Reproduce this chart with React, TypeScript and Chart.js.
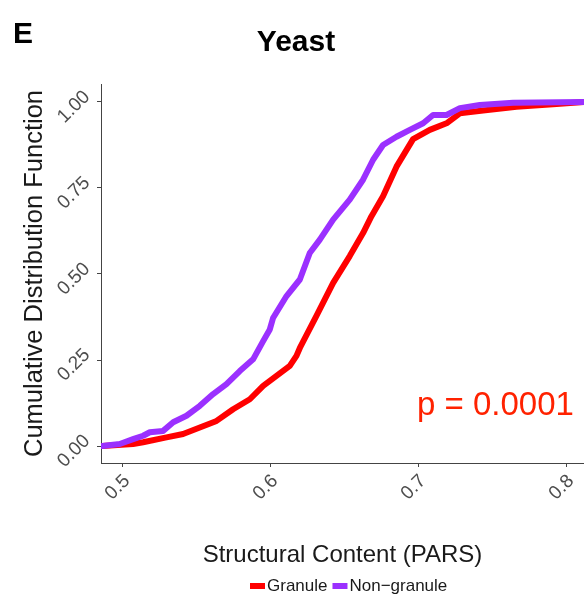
import React, { useEffect, useRef } from "react";
import { Chart, registerables } from "chart.js";

Chart.register(...registerables);

// ---- data ----
const granuleX = [0.486, 0.5068, 0.5136, 0.5294, 0.5406, 0.5519, 0.5632, 0.5744, 0.5857, 0.5947, 0.6037, 0.6127, 0.6172, 0.6195, 0.6307, 0.642, 0.6532, 0.6622, 0.6679, 0.6757, 0.6848, 0.696, 0.7073, 0.7186, 0.7276, 0.7433, 0.7659, 0.7929, 0.812];
const granuleY = [0, 0.006, 0.011, 0.025, 0.035, 0.054, 0.073, 0.107, 0.136, 0.175, 0.204, 0.233, 0.262, 0.285, 0.378, 0.474, 0.552, 0.619, 0.668, 0.726, 0.812, 0.892, 0.919, 0.938, 0.967, 0.975, 0.986, 0.994, 1.0];

const nonGranuleX = [0.486, 0.4978, 0.5068, 0.5136, 0.5181, 0.5271, 0.5339, 0.5429, 0.5519, 0.5609, 0.5699, 0.5789, 0.5879, 0.5947, 0.5992, 0.6014, 0.6105, 0.6195, 0.6262, 0.633, 0.642, 0.6532, 0.6622, 0.669, 0.6757, 0.6848, 0.6938, 0.7028, 0.7095, 0.7186, 0.7276, 0.7411, 0.7636, 0.812];
const nonGranuleY = [0, 0.006, 0.02, 0.03, 0.04, 0.044, 0.069, 0.088, 0.117, 0.151, 0.18, 0.218, 0.252, 0.305, 0.339, 0.372, 0.436, 0.484, 0.561, 0.6, 0.658, 0.716, 0.774, 0.832, 0.875, 0.899, 0.919, 0.938, 0.962, 0.962, 0.982, 0.991, 0.998, 1.0];

const seriesLabels = ["Granule", "Non\u2212granule"];
const seriesColors = ["#ff0000", "#9b30ff"];

const xTicks = [0.5, 0.6, 0.7, 0.8];
const yTicks = [0, 0.25, 0.5, 0.75, 1];

const chartTitle = "Yeast";
const panelLetter = "E";
const pValueText = "p = 0.0001";
const xTitle = "Structural Content (PARS)";
const yTitle = "Cumulative Distribution Function";

const FONT = '"Liberation Sans", Arial, Helvetica, sans-serif';

export default function App() {
  const ref = useRef<HTMLCanvasElement>(null);

  useEffect(() => {
    const canvas = ref.current;
    if (!canvas) return;
    Chart.defaults.font.family = FONT;

    const annotations = {
      id: "annotations",
      afterDraw(chart: any) {
        const ctx = chart.ctx;
        ctx.save();
        ctx.textAlign = "left";
        ctx.textBaseline = "alphabetic";
        ctx.fillStyle = "#000";
        ctx.font = `bold 30px ${FONT}`;
        ctx.fillText(panelLetter, 13, 43);

        ctx.fillStyle = "#ff2200";
        ctx.font = `33px ${FONT}`;
        ctx.fillText(pValueText, 417, 415);

        // legend
        ctx.font = `17px ${FONT}`;
        ctx.textBaseline = "middle";
        let x = 250;
        const y = 586;
        chart.data.datasets.forEach((ds: any) => {
          ctx.fillStyle = ds.borderColor;
          ctx.fillRect(x, y - 3, 15, 6);
          x += 17;
          ctx.fillStyle = "#1a1a1a";
          ctx.fillText(ds.label, x, y);
          x += ctx.measureText(ds.label).width + 5;
        });
        ctx.restore();
      },
    };

    const chart = new Chart(canvas, {
      type: "line",
      data: {
        datasets: [
          {
            label: seriesLabels[0],
            data: granuleX.map((v, i) => ({ x: v, y: granuleY[i] })),
            borderColor: seriesColors[0],
            backgroundColor: seriesColors[0],
            borderWidth: 6,
            pointRadius: 0,
            tension: 0,
            borderJoinStyle: "round",
            borderCapStyle: "round",
            order: 1,
          },
          {
            label: seriesLabels[1],
            data: nonGranuleX.map((v, i) => ({ x: v, y: nonGranuleY[i] })),
            borderColor: seriesColors[1],
            backgroundColor: seriesColors[1],
            borderWidth: 6,
            pointRadius: 0,
            tension: 0,
            borderJoinStyle: "round",
            borderCapStyle: "round",
            order: 0,
          },
        ],
      },
      options: {
        animation: false,
        responsive: false,
        devicePixelRatio: 1,
        layout: { padding: { left: 8, right: 0, top: 0, bottom: 28 } },
        plugins: {
          legend: { display: false },
          tooltip: { enabled: false },
          title: {
            display: true,
            text: chartTitle,
            color: "#000",
            font: { size: 30, weight: "bold", family: FONT },
            padding: { top: 25, bottom: 23 },
          },
        },
        scales: {
          x: {
            type: "linear",
            min: 0.48514,
            max: 0.81149,
            afterBuildTicks: (scale: any) => {
              scale.ticks = xTicks.map((v) => ({ value: v }));
            },
            afterFit: (scale: any) => {
              scale.height = 107;
              scale.paddingLeft = 0;
              scale.paddingRight = 0;
            },
            ticks: {
              minRotation: 45,
              maxRotation: 45,
              color: "#4d4d4d",
              font: { size: 19, family: FONT },
              padding: 3,
              labelOffset: 4,
              callback: (v: any) => Number(v).toFixed(1),
            },
            grid: { drawOnChartArea: false, drawTicks: true, tickLength: 4, color: "#444" },
            border: { display: true, color: "#444", width: 1 },
            title: {
              display: true,
              text: xTitle,
              color: "#1a1a1a",
              font: { size: 24, family: FONT },
              padding: { top: 0, bottom: 0 },
            },
          },
          y: {
            type: "linear",
            min: -0.0493,
            max: 1.0522,
            afterBuildTicks: (scale: any) => {
              scale.ticks = yTicks.map((v) => ({ value: v }));
            },
            afterFit: (scale: any) => {
              scale.width = 93;
              scale.paddingTop = 0;
              scale.paddingBottom = 0;
            },
            ticks: {
              minRotation: 45,
              maxRotation: 45,
              color: "#4d4d4d",
              font: { size: 19, family: FONT },
              padding: 10,
              labelOffset: -8,
              callback: (v: any) => Number(v).toFixed(2),
            },
            grid: { drawOnChartArea: false, drawTicks: true, tickLength: 4, color: "#444" },
            border: { display: true, color: "#444", width: 1 },
            title: {
              display: true,
              text: yTitle,
              color: "#1a1a1a",
              font: { size: 25.5, family: FONT },
              padding: { top: 12, bottom: 0 },
            },
          },
        },
      },
      plugins: [annotations],
    });

    return () => chart.destroy();
  }, []);

  return (
    <div style={{ position: "fixed", left: 0, top: 0, width: 584, height: 598, background: "#fff" }}>
      <canvas ref={ref} width={584} height={598} style={{ display: "block", width: 584, height: 598 }} />
    </div>
  );
}
